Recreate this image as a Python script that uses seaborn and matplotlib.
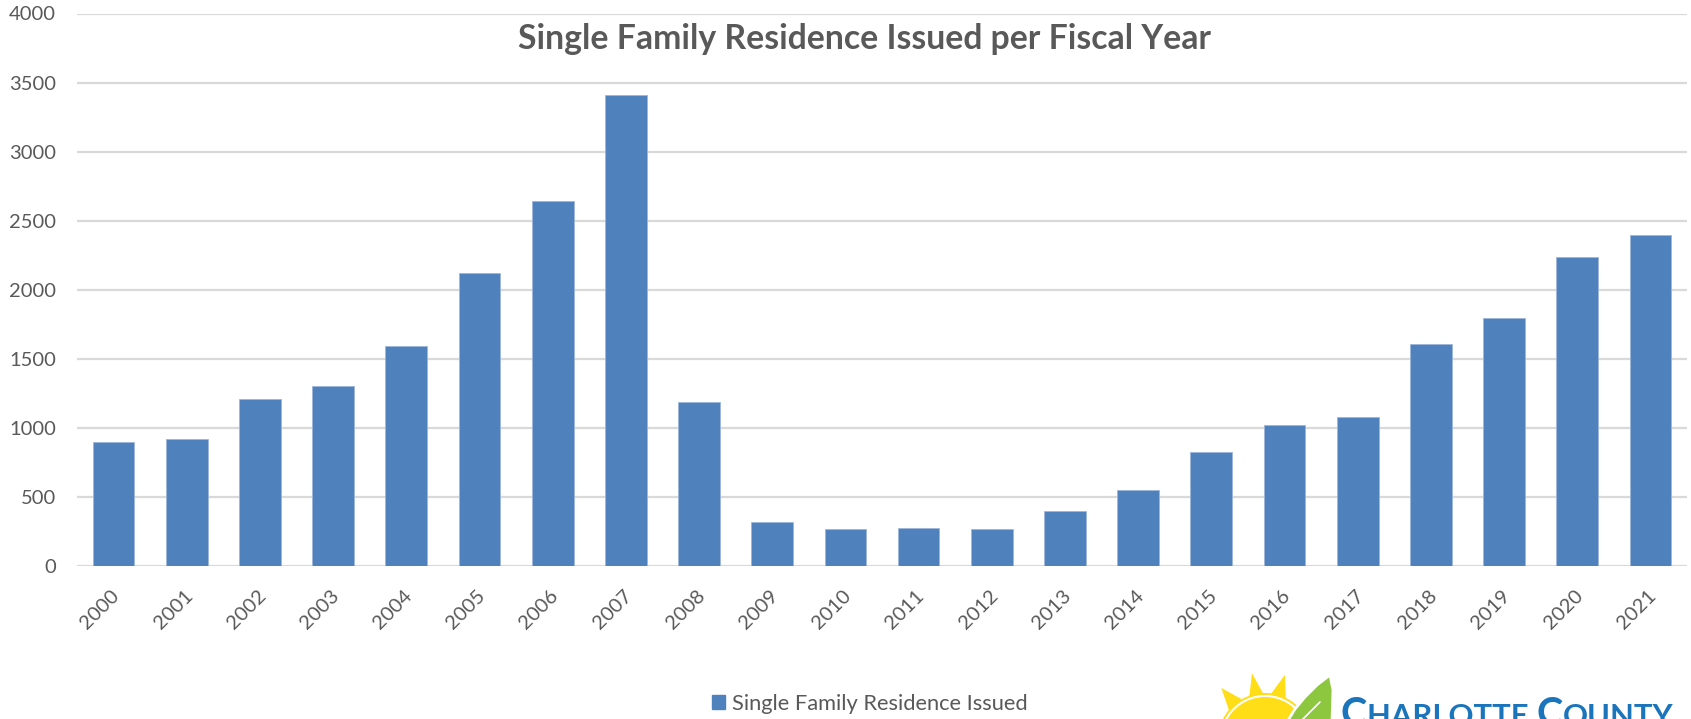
import numpy as np
import pandas as pd
import matplotlib
matplotlib.use('Agg')
import matplotlib.pyplot as plt
import matplotlib.patches as mpatches
import matplotlib.transforms as mtransforms
import seaborn as sns

# data
years = ['2000', '2001', '2002', '2003', '2004', '2005', '2006', '2007', '2008', '2009', '2010',
         '2011', '2012', '2013', '2014', '2015', '2016', '2017', '2018', '2019', '2020', '2021']
issued = [895, 919, 1209, 1301, 1591, 2118, 2645, 3408, 1189, 317, 271,
          275, 271, 396, 550, 823, 1024, 1082, 1606, 1795, 2234, 2396]
y_ticks = [0, 500, 1000, 1500, 2000, 2500, 3000, 3500, 4000]

title_text = 'Single Family Residence Issued per Fiscal Year'
legend_label = 'Single Family Residence Issued'

bar_color = '#4F81BD'
text_gray = '#595959'
grid_gray = '#D9D9D9'
logo_blue = '#1B75BC'

W, H = 1691, 719

sns.set_theme(style='white')
plt.rcParams['font.family'] = ['Lato', 'DejaVu Sans']

fig = plt.figure(figsize=(W / 100, H / 100), dpi=100)
fig.patch.set_facecolor('white')

# plot area in pixel terms
ax = fig.add_axes([77 / W, 1 - 566 / H, 1610 / W, (566 - 13.5) / H])
df = pd.DataFrame({'year': years, 'issued': issued})
sns.barplot(data=df, x='year', y='issued', color=bar_color, saturation=1,
            width=0.57, errorbar=None, edgecolor='#9DB6DA', linewidth=0.6, ax=ax)

ax.set_ylim(0, 4000)
ax.set_xlim(-0.5, len(years) - 0.5)
ax.set_yticks(y_ticks)
ax.set_yticklabels([str(t) for t in y_ticks])
ax.yaxis.grid(True, color=grid_gray, linewidth=1.6)
ax.set_axisbelow(True)
for s in ax.spines.values():
    s.set_visible(False)
ax.set_xlabel('')
ax.set_ylabel('')
ax.tick_params(axis='both', length=0, colors=text_gray, labelsize=14.5)
ax.tick_params(axis='y', pad=15)
ax.tick_params(axis='x', pad=15)

offset = mtransforms.ScaledTranslation(-3 / 100, 0, fig.dpi_scale_trans)
for lbl in ax.get_xticklabels():
    lbl.set_rotation(45)
    lbl.set_ha('right')
    lbl.set_va('top')
    lbl.set_rotation_mode('anchor')
    lbl.set_transform(lbl.get_transform() + offset)

fig.text(865 / W, 1 - 39 / H, title_text, ha='center', va='center',
         fontsize=24.3, fontweight='bold', color=text_gray)

handle = mpatches.Patch(color=bar_color, label=legend_label)
fig.legend(handles=[handle], loc='center', bbox_to_anchor=(870 / W, 1 - 704 / H),
           frameon=False, fontsize=15.75, labelcolor=text_gray,
           handlelength=0.6, handleheight=0.6, handletextpad=0.3)

# logo in the lower right corner (cut off by the bottom edge)
lax = fig.add_axes([0, 0, 1, 1])
lax.set_xlim(0, W)
lax.set_ylim(H, 0)
lax.axis('off')

sun_c = np.array([1265.0, 740.0])
for ang, half in [(-130, 11), (-101, 9), (-73, 10)]:
    a = np.deg2rad(ang)
    tip = sun_c + 68 * np.array([np.cos(a), np.sin(a)])
    b1 = sun_c + 46 * np.array([np.cos(a - np.deg2rad(half)), np.sin(a - np.deg2rad(half))])
    b2 = sun_c + 46 * np.array([np.cos(a + np.deg2rad(half)), np.sin(a + np.deg2rad(half))])
    lax.add_patch(mpatches.Polygon([b1, tip, b2], closed=True, color='#FFDD17', lw=0))
lax.add_patch(mpatches.Circle(sun_c, 47, color='#FFDD17', lw=0))
lax.add_patch(mpatches.Circle(sun_c, 44, fill=False, edgecolor='white', lw=1.5))

leaf = [(1287, 722), (1295, 709), (1305, 697), (1317, 685), (1330, 675),
        (1333, 690), (1332, 722)]
lax.add_patch(mpatches.Polygon(leaf, closed=True, facecolor='#8DC63F',
                               edgecolor='white', lw=2))
lax.plot([1300, 1320], [722, 702], color='white', lw=1.2)

renderer = fig.canvas.get_renderer()
x = 1341
for piece, size in [('C', 28.5), ('HARLOTTE ', 22.3), ('C', 28.5), ('OUNTY', 22.3)]:
    t = lax.text(x, 725.5, piece, fontsize=size, color=logo_blue, fontweight='bold',
                 ha='left', va='baseline')
    x += t.get_window_extent(renderer).width

fig.savefig('out.png', dpi=100)
